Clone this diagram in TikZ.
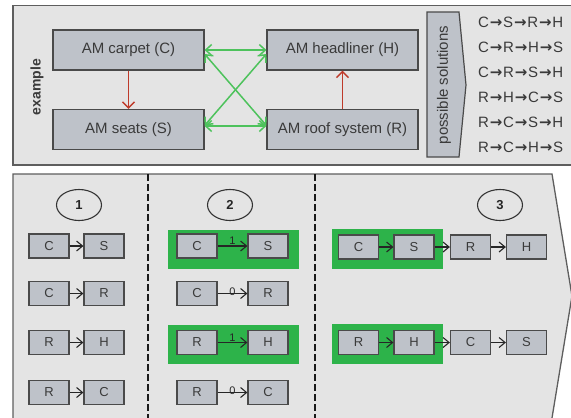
\documentclass[tikz,border=0pt]{standalone}
\usepackage{fontspec}
\setmainfont{Liberation Sans}
\newfontfamily\arrfont{DejaVu Sans}
\newcommand{\ra}{\kern0.8pt{\arrfont\bfseries →}\kern0.8pt}
\usetikzlibrary{arrows.meta,shapes.geometric}
\definecolor{panelbg}{HTML}{E4E4E4}
\definecolor{panelline}{HTML}{5E5E5E}
\definecolor{boxfill}{HTML}{BEC2C9}
\definecolor{boxline}{HTML}{4A4A4A}
\definecolor{txt}{HTML}{3A3A3A}
\definecolor{hlgreen}{HTML}{2DB34A}
\definecolor{arrgreen}{HTML}{4DC25C}
\definecolor{arrred}{HTML}{BE3A2A}
\tikzset{
  panel/.style={fill=panelbg, draw=panelline, line width=1.3pt},
  bigbox/.style={draw=boxline, fill=boxfill, line width=1.2pt, minimum width=151pt,
    minimum height=40pt, inner sep=0pt, text=txt, font=\fontsize{15}{18}\selectfont},
  sbox/.style={bigbox, minimum width=40pt, minimum height=24pt, font=\fontsize{13}{15}\selectfont},
  redarr/.style={draw=arrred, line width=1.5pt, -{Straight Barb[length=6pt,width=12pt]}},
  grarr/.style={draw=arrgreen, line width=1.5pt,
    {Straight Barb[length=6pt,width=11pt]}-{Straight Barb[length=6pt,width=11pt]}},
  sarr/.style={draw=black!85, line width=1.1pt, -{Straight Barb[length=6pt,width=10pt]}},
  hl/.style={fill=hlgreen},
  numc/.style={ellipse, draw=black!80, line width=1.1pt, minimum width=45pt, minimum height=31pt,
    inner sep=0pt, font=\bfseries\fontsize{13}{15}\selectfont, text=black!85},
  lbl/.style={font=\fontsize{11}{12}\selectfont, inner sep=0.5pt, text=black!85},
  divider/.style={draw=black!90, line width=1.8pt, dash pattern=on 6.5pt off 3.5pt},
  soltxt/.style={anchor=west, inner sep=0pt, text=txt, font=\fontsize{15}{18}\selectfont},
}
\begin{document}
\begin{tikzpicture}[x=1pt,y=-1pt]
\clip (0,0) rectangle (571,418);
\fill[white] (0,0) rectangle (571,418);
% panels
\draw[panel] (13,5.5) rectangle (600,165);
\draw[panel] (13,174) -- (552,174) -- (572,296) -- (552,418) -- (550,430) -- (13,430) -- cycle;
% example label
\node[rotate=90, font=\bfseries\fontsize{14}{16}\selectfont, text=txt] (ex) at (37,87) {example};
% top nodes
\node[bigbox] (C) at (128.5,50) {AM carpet (C)};
\node[bigbox] (S) at (128.5,129.5) {AM seats (S)};
\node[bigbox] (H) at (342.5,50) {AM headliner (H)};
\node[bigbox] (R) at (342.5,129.5) {AM roof system (R)};
\draw[redarr] (C) -- (S);
\draw[redarr] (R) -- (H);
\draw[grarr] (C.east) -- (H.west);
\draw[grarr] ([yshift=3.5pt]S.east) -- ([yshift=3.5pt]R.west);
\draw[grarr] ([yshift=-4pt]C.east) -- ([yshift=4pt]R.west);
\draw[grarr] ([yshift=4pt]S.east) -- ([yshift=-4pt]H.west);
% possible solutions
\draw[draw=boxline, fill=boxfill, line width=1.2pt] (427,12) -- (459,12) -- (466,85) -- (459,157) -- (427,157) -- cycle;
\node[rotate=90, text=txt, font=\fontsize{15}{18}\selectfont] (ps) at (444,85) {possible solutions};
\node[soltxt] (s1) at (478,22) {C\ra S\ra R\ra H};
\node[soltxt] (s2) at (478,47) {C\ra R\ra H\ra S};
\node[soltxt] (s3) at (478,72) {C\ra R\ra S\ra H};
\node[soltxt] (s4) at (478,97) {R\ra H\ra C\ra S};
\node[soltxt] (s5) at (478,122) {R\ra C\ra S\ra H};
\node[soltxt] (s6) at (478,147) {R\ra C\ra H\ra S};
% dividers
\coordinate (d1t) at (148,174); \coordinate (d1b) at (148,420);
\coordinate (d2t) at (315,174); \coordinate (d2b) at (315,420);
\draw[divider] (d1t) -- (d1b);
\draw[divider] (d2t) -- (d2b);
% step numbers
\node[numc] (n1) at (79,205) {1};
\node[numc] (n2) at (230,205) {2};
\node[numc] (n3) at (500,205) {3};
% highlights
\fill[hl] (168,230) rectangle (299,269);
\fill[hl] (168,325) rectangle (299,364);
\fill[hl] (332,229) rectangle (443,269);
\fill[hl] (332,324) rectangle (443,364);
% column 1
\node[sbox] (a1) at (49,246) {C};   \node[sbox] (a2) at (104,246) {S};
\node[sbox] (b1) at (49,293.5) {C}; \node[sbox] (b2) at (104,293.5) {R};
\node[sbox] (c1) at (49,342.5) {R}; \node[sbox] (c2) at (104,342.5) {H};
\node[sbox] (e1) at (49,392.5) {R}; \node[sbox] (e2) at (104,392.5) {C};
\draw[sarr] (a1) -- (a2);
\draw[sarr] (b1) -- (b2);
\draw[sarr] (c1) -- (c2);
\draw[sarr] (e1) -- (e2);
% column 2
\node[sbox] (f1) at (197,246) {C};   \node[sbox] (f2) at (268,246) {S};
\node[sbox] (g1) at (197,293.5) {C}; \node[sbox] (g2) at (268,293.5) {R};
\node[sbox] (h1) at (197,342.5) {R}; \node[sbox] (h2) at (268,342.5) {H};
\node[sbox] (k1) at (197,392.5) {R}; \node[sbox] (k2) at (268,392.5) {C};
\draw[sarr] (f1) -- node[lbl, above=0pt] {1} (f2);
\draw[sarr] (g1) -- node[lbl, above=-3.5pt] {0} (g2);
\draw[sarr] (h1) -- node[lbl, above=0pt] {1} (h2);
\draw[sarr] (k1) -- node[lbl, above=-3.5pt] {0} (k2);
% column 3
\node[sbox] (p1) at (358.5,247) {C}; \node[sbox] (p2) at (414,247) {S};
\node[sbox] (p3) at (470.5,247) {R}; \node[sbox] (p4) at (526.5,247) {H};
\node[sbox] (q1) at (358.5,342.5) {R}; \node[sbox] (q2) at (414,342.5) {H};
\node[sbox] (q3) at (470.5,342.5) {C}; \node[sbox] (q4) at (526.5,342.5) {S};
\draw[sarr] (p1) -- (p2);
\draw[sarr] (p2) -- (p3);
\draw[sarr] (p3) -- (p4);
\draw[sarr] (q1) -- (q2);
\draw[sarr] (q2) -- (q3);
\draw[sarr] (q3) -- (q4);
\end{tikzpicture}
\end{document}
